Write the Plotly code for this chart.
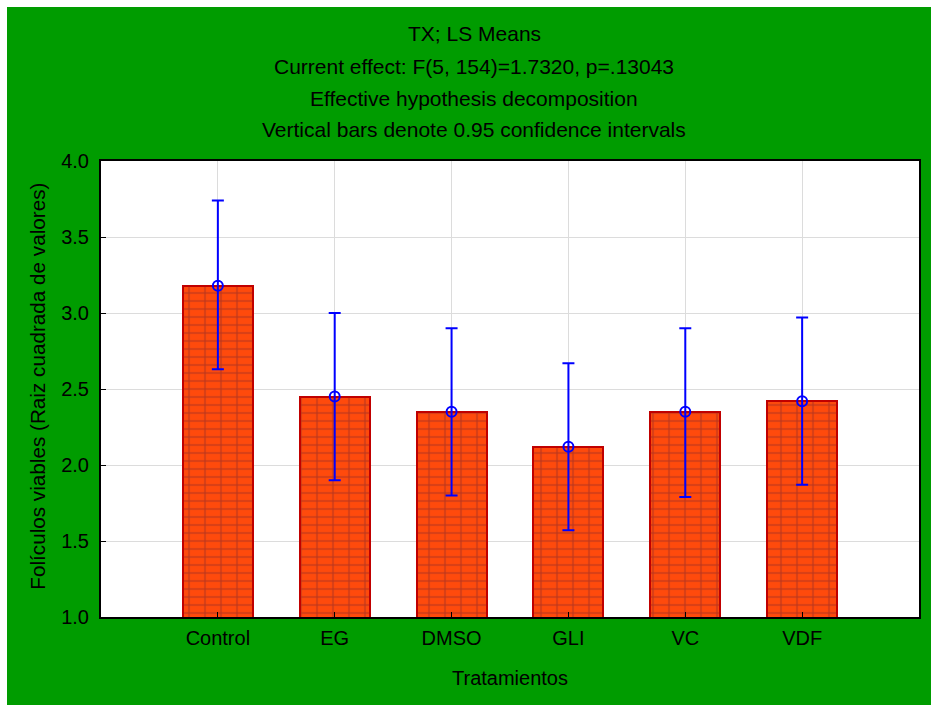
import plotly.graph_objects as go

categories = ["Control", "EG", "DMSO", "GLI", "VC", "VDF"]
means = [3.18, 2.45, 2.35, 2.12, 2.35, 2.42]
ci_upper = [3.74, 3.00, 2.90, 2.67, 2.90, 2.97]
ci_lower = [2.63, 1.90, 1.80, 1.57, 1.79, 1.87]
y_ticks = [1.0, 1.5, 2.0, 2.5, 3.0, 3.5, 4.0]

positions = list(range(1, len(categories) + 1))
err_plus = [u - m for u, m in zip(ci_upper, means)]
err_minus = [m - l for m, l in zip(means, ci_lower)]

FONT = "Liberation Sans, Arial, sans-serif"
MORTAR = "#B5361F"
BRICK = "#FF4A0C"

fig = go.Figure()
fig.add_trace(go.Bar(
    x=positions, y=means, width=0.6,
    marker=dict(color=BRICK, line=dict(color="#C00000", width=2),
                pattern=dict(shape="-", fgcolor=MORTAR, bgcolor=BRICK,
                             size=8, solidity=0.28)),
    hoverinfo="skip", showlegend=False,
))
fig.add_trace(go.Bar(
    x=positions, y=means, width=0.6,
    marker=dict(color="rgba(0,0,0,0)", line=dict(color="#C00000", width=2),
                pattern=dict(shape="|", fgcolor=MORTAR, bgcolor="rgba(0,0,0,0)",
                             size=16, solidity=0.14)),
    hoverinfo="skip", showlegend=False,
))
fig.add_trace(go.Scatter(
    x=positions, y=means, mode="markers",
    marker=dict(symbol="circle-open", size=10, color="#0000FF", line=dict(width=2, color="#0000FF")),
    error_y=dict(type="data", symmetric=False, array=err_plus, arrayminus=err_minus,
                 color="#0000FF", thickness=2, width=6),
    showlegend=False,
))

# page has a 7px white margin at top/left (set via post_script)
W, H = 924, 698
ml, mr, mt, mb = 94, 10, 154, 88
pw, ph = W - ml - mr, H - mt - mb

titles = ["TX; LS Means", "Current effect: F(5, 154)=1.7320, p=.13043",
          "Effective hypothesis decomposition", "Vertical bars denote 0.95 confidence intervals"]
title_y = [26, 59, 91, 122]
for t, yy in zip(titles, title_y):
    fig.add_annotation(text=t, xref="paper", yref="paper", x=(468 - ml) / pw, y=(mt + ph - yy) / ph,
                       showarrow=False, xanchor="center", yanchor="middle",
                       font=dict(family=FONT, size=21, color="black"))

fig.add_annotation(text="Folículos viables (Raiz cuadrada de valores)", textangle=-90,
                   xref="paper", yref="paper", x=(30 - ml) / pw, y=(mt + ph - 379.5) / ph,
                   showarrow=False, xanchor="center", yanchor="middle",
                   font=dict(family=FONT, size=20.7, color="black"))

fig.update_layout(
    width=W, height=H,
    margin=dict(l=ml, r=mr, t=mt, b=mb),
    paper_bgcolor="#009C00", plot_bgcolor="white",
    font=dict(family=FONT, size=20, color="black"),
    barmode="overlay", bargap=0,
)
fig.update_xaxes(
    range=[0, len(categories) + 1], tickvals=positions, ticktext=categories,
    showgrid=True, gridcolor="#DCDCDC", gridwidth=1,
    showline=True, linecolor="black", linewidth=2, mirror=True,
    ticks="inside", ticklen=5, tickcolor="black", ticklabelstandoff=2,
    title=dict(text="Tratamientos", font=dict(size=20), standoff=23),
    zeroline=False,
)
fig.update_yaxes(
    range=[1, 4], tickvals=y_ticks, tickformat=".1f",
    showgrid=True, gridcolor="#DCDCDC", gridwidth=1,
    showline=True, linecolor="black", linewidth=2, mirror=True,
    ticks="inside", ticklen=5, tickcolor="black", ticklabelstandoff=6,
    zeroline=False,
)

fig.write_html(
    "out.html",
    post_script="document.body.style.margin='7px 0 0 7px';document.body.style.overflow='hidden';",
)
